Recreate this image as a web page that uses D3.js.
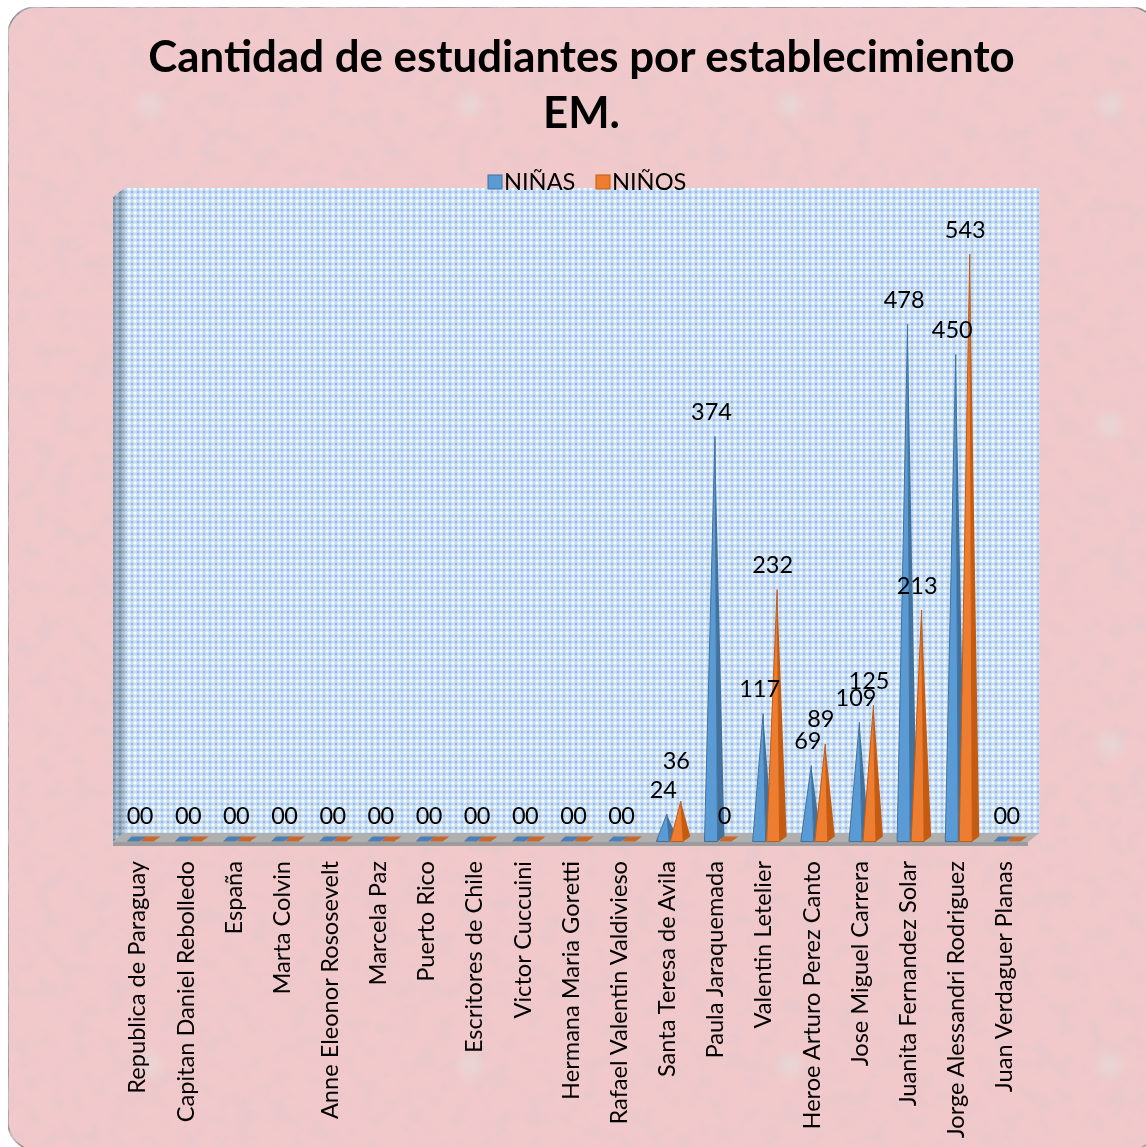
<!DOCTYPE html>
<html>
<head>
<meta charset="utf-8">
<script src="https://cdn.jsdelivr.net/npm/d3@7"></script>
<style>
  html, body { margin: 0; padding: 0; background: #fff; }
  text { font-family: Lato, "Open Sans", sans-serif; fill: #000; }
  .domain, .tick line { display: none; }
</style>
</head>
<body>
<svg class="chart"></svg>
<script>
// data
var schools = ["Republica de Paraguay", "Capitan Daniel Rebolledo", "España", "Marta Colvin",
    "Anne Eleonor Rososevelt", "Marcela Paz", "Puerto Rico", "Escritores de Chile", "Victor Cuccuini",
    "Hermana Maria Goretti", "Rafael Valentin Valdivieso", "Santa Teresa de Avila", "Paula Jaraquemada",
    "Valentin Letelier", "Heroe Arturo Perez Canto", "Jose Miguel Carrera", "Juanita Fernandez Solar",
    "Jorge Alessandri Rodriguez", "Juan Verdaguer Planas"];
var ninas = [0, 0, 0, 0, 0, 0, 0, 0, 0, 0, 0, 24, 374, 117, 69, 109, 478, 450, 0];
var ninos = [0, 0, 0, 0, 0, 0, 0, 0, 0, 0, 0, 36, 0, 232, 89, 125, 213, 543, 0];
var seriesNames = ["NIÑAS", "NIÑOS"];
var titleLines = ["Cantidad de estudiantes por establecimiento", "EM."];

var width = 1146, height = 1147;
var colors = {
    NIÑAS: {front: "#5b9bd5", side: "#41719c", flat: "#4a80b4"},
    NIÑOS: {front: "#ed7d31", side: "#c55a11", flat: "#c9682a"}
};

var svg = d3.select(".chart").attr("width", width).attr("height", height).style("display", "block");
var defs = svg.append("defs");

// paper texture for the card
var paper = defs.append("filter").attr("id", "paper")
    .attr("x", 0).attr("y", 0).attr("width", "100%").attr("height", "100%");
paper.append("feTurbulence").attr("type", "fractalNoise").attr("baseFrequency", 0.055)
    .attr("numOctaves", 4).attr("seed", 7).attr("result", "n");
paper.append("feColorMatrix").attr("in", "n").attr("type", "matrix")
    .attr("values", "0 0 0 0 0.80  0 0 0 0 0.58  0 0 0 0 0.60  1.9 0 0 0 -0.75").attr("result", "t");
paper.append("feComposite").attr("in", "t").attr("in2", "SourceGraphic").attr("operator", "in").attr("result", "c");
paper.append("feMerge").selectAll("feMergeNode").data(["SourceGraphic", "c"]).enter()
    .append("feMergeNode").attr("in", function (d) { return d; });
defs.append("filter").attr("id", "soft").append("feGaussianBlur").attr("stdDeviation", 5);

// dotted fill of the walls
function lattice(id, bg, light, dark) {
    var p = defs.append("pattern").attr("id", id).attr("patternUnits", "userSpaceOnUse")
        .attr("width", 6).attr("height", 6);
    p.append("rect").attr("width", 6).attr("height", 6).attr("fill", bg);
    p.append("path").attr("d", "M3 1L5 3L3 5L1 3Z").attr("fill", light);
    p.append("path").attr("d", "M0 -1.2L1.2 0L0 1.2L-1.2 0ZM6 -1.2L7.2 0L6 1.2L4.8 0ZM0 4.8L1.2 6L0 7.2L-1.2 6ZM6 4.8L7.2 6L6 7.2L4.8 6Z").attr("fill", dark);
}
lattice("wall", "#c4dbf1", "#f8fcff", "#82acdc");
lattice("wallSide", "#8fa8be", "#b9c8d6", "#5d7c98");

// card
svg.append("rect").attr("x", 8).attr("y", 7).attr("width", 1150).attr("height", 1143).attr("rx", 28)
    .attr("fill", "#f2c9cb").attr("stroke", "#8c8c8c").attr("stroke-width", 1.5)
    .attr("filter", "url(#paper)");

// pale flecks repeated on the wallpaper
var fleckX = d3.range(150, width, 320), fleckY = d3.range(105, height, 320);
svg.append("g").attr("filter", "url(#soft)").selectAll("circle")
    .data(d3.cross(fleckX, fleckY)).enter().append("circle")
    .attr("cx", function (d) { return d[0]; }).attr("cy", function (d) { return d[1]; })
    .attr("r", 12).attr("fill", "#e6dcd8").attr("opacity", 0.6);

// title
svg.append("g").selectAll("text").data(titleLines).enter().append("text")
    .attr("x", 581.5).attr("y", function (d, i) { return 72 + i * 56; })
    .attr("text-anchor", "middle").attr("font-size", 43.8).attr("font-weight", 700)
    .text(function (d) { return d; });

// scales
var x = d3.scaleBand().domain(schools).range([113, 1028]);
var y = d3.scaleLinear().domain([0, 600]).range([840, 192.6]);
var xSeries = d3.scaleBand().domain(seriesNames).range([-10.5, 17.5]);

// 3d box: back wall, left wall, floor
var depthX = 11.5, depthY = 9;
var left = x.range()[0], right = x.range()[1], floorY = 842, topY = 188;
svg.append("rect").attr("x", left + depthX).attr("y", topY)
    .attr("width", right - left).attr("height", floorY - depthY - topY).attr("fill", "url(#wall)");
svg.append("path").attr("fill", "url(#wallSide)")
    .attr("d", d3.line()([[left, topY + depthY], [left + depthX, topY], [left + depthX, floorY - depthY], [left, floorY]]) + "Z");
svg.append("path").attr("fill", "#b0b0b0")
    .attr("d", d3.line()([[left, floorY], [left + depthX, floorY - depthY], [right + depthX, floorY - depthY], [right, floorY]]) + "Z");
svg.append("rect").attr("x", left).attr("y", floorY).attr("width", right - left).attr("height", 4).attr("fill", "#9c9c9c");

// pyramids
var baseWidth = 13, sideWidth = 7, baseDepth = 5, baseY = y(0) + 1.5;
seriesNames.forEach(function (name, s) {
    var values = s === 0 ? ninas : ninos;
    var g = svg.append("g").attr("class", "series");
    schools.forEach(function (school, i) {
        var v = values[i];
        var cx = x(school) + x.bandwidth() / 2;
        var x0 = cx + xSeries(name);
        var apex = [x0 + 10.5, y(v)];
        if (v === 0) {
            g.append("path").attr("fill", colors[name].flat)
                .attr("d", d3.line()([[x0, baseY], [x0 + baseWidth, baseY], [x0 + baseWidth + sideWidth, baseY - baseDepth], [x0 + sideWidth - 2, baseY - baseDepth]]) + "Z");
            return;
        }
        g.append("path").attr("fill", colors[name].side)
            .attr("d", d3.line()([[x0 + baseWidth, baseY], [x0 + baseWidth + sideWidth, baseY - baseDepth], apex]) + "Z");
        g.append("path").attr("fill", colors[name].front).attr("stroke", colors[name].side).attr("stroke-width", 1)
            .attr("d", d3.line()([[x0, baseY], [x0 + baseWidth, baseY], apex]) + "Z");
    });
});

// value labels
var labelShift = {"Santa Teresa de Avila|NIÑOS": -16};
seriesNames.forEach(function (name, s) {
    var values = s === 0 ? ninas : ninos;
    svg.append("g").selectAll("text").data(schools).enter().append("text")
        .attr("x", function (d) { return x(d) + x.bandwidth() / 2 + (s === 0 ? -3.5 : 9.5); })
        .attr("y", function (d, i) { return y(values[i]) - 16.5 + (labelShift[d + "|" + name] || 0); })
        .attr("text-anchor", "middle").attr("font-size", 23.5)
        .text(function (d, i) { return values[i]; });
});

// category axis
var axis = svg.append("g").attr("transform", "translate(0," + 861 + ")")
    .call(d3.axisBottom(x).tickSize(0).tickPadding(0));
axis.selectAll("text")
    .attr("transform", "rotate(-90)")
    .attr("x", 0).attr("y", 0).attr("dy", "0.35em").attr("dx", 0)
    .attr("text-anchor", "end").attr("font-size", 23.6)
    .style("font-family", "Lato, 'Open Sans', sans-serif");

// legend
var legendX = d3.scaleOrdinal().domain(seriesNames).range([488, 596]);
var legend = svg.append("g").selectAll("g").data(seriesNames).enter().append("g")
    .attr("transform", function (d) { return "translate(" + legendX(d) + ",175)"; });
legend.append("rect").attr("width", 14).attr("height", 14)
    .attr("fill", function (d) { return colors[d].front; })
    .attr("stroke", function (d) { return colors[d].side; }).attr("stroke-width", 1);
legend.append("text").attr("x", 16).attr("y", 15).attr("font-size", 23.6).text(function (d) { return d; });
</script>
</body>
</html>
